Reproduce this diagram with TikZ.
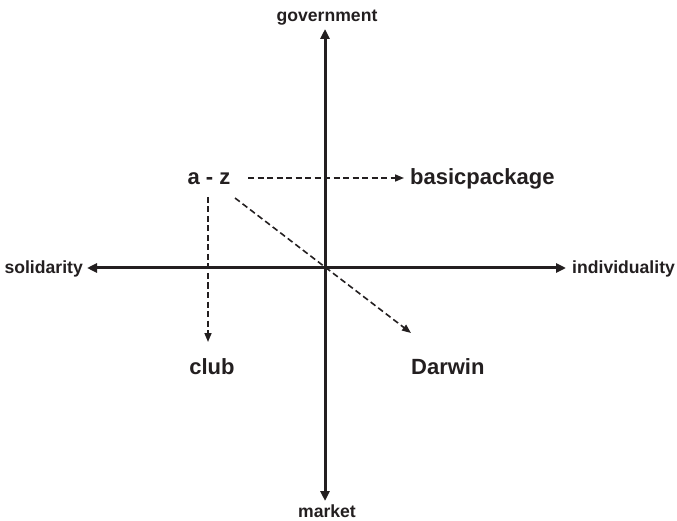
\documentclass[tikz,border=0pt]{standalone}
\usepackage{fontspec}
\setmainfont{Liberation Sans}
\usetikzlibrary{arrows.meta}
\definecolor{ink}{RGB}{35,31,32}
\begin{document}
\begin{tikzpicture}[x=1pt,y=-1pt,
  axis/.style={draw=ink,line width=3pt,-{Triangle[length=10pt,width=9pt]}},
  dasharrow/.style={draw=ink,line width=1.6pt,dash pattern=on 6pt off 3.5pt,-{Triangle[length=9pt,width=7pt]}},
  axlabel/.style={text=ink,font=\bfseries\fontsize{17.6}{20}\selectfont,inner sep=0pt},
  lbl/.style={text=ink,font=\bfseries\fontsize{22}{25}\selectfont,inner sep=0pt}]
\useasboundingbox (0,0) rectangle (677,521);
\coordinate (c) at (325,268);
\coordinate (top) at (325,29);
\coordinate (bot) at (325,501);
\coordinate (left) at (87,268);
\coordinate (right) at (566,268);
\draw[axis] (c) -- (top);
\draw[axis] (c) -- (bot);
\draw[axis] (c) -- (left);
\draw[axis] (c) -- (right);
\node[axlabel,anchor=base] (gov) at (327,22) {government};
\node[axlabel,anchor=base] (mkt) at (327,517) {market};
\node[axlabel,anchor=base east] (sol) at (83,274) {solidarity};
\node[axlabel,anchor=base west] (ind) at (572,274) {individuality};
\node[lbl,anchor=base] (az) at (209,185) {a - z};
\node[lbl,anchor=base west] (bp) at (410,185) {basicpackage};
\node[lbl,anchor=base] (club) at (212,374) {club};
\node[lbl,anchor=base west] (dar) at (411,374) {Darwin};
\coordinate (h1) at (248,178);
\coordinate (h2) at (404,178);
\coordinate (v1) at (208,197);
\coordinate (v2) at (208,342);
\coordinate (d1) at (235,198);
\coordinate (d2) at (411,333);
\draw[dasharrow] (h1) -- (h2);
\draw[dasharrow] (v1) -- (v2);
\draw[dasharrow] (d1) -- (d2);
\end{tikzpicture}
\end{document}
